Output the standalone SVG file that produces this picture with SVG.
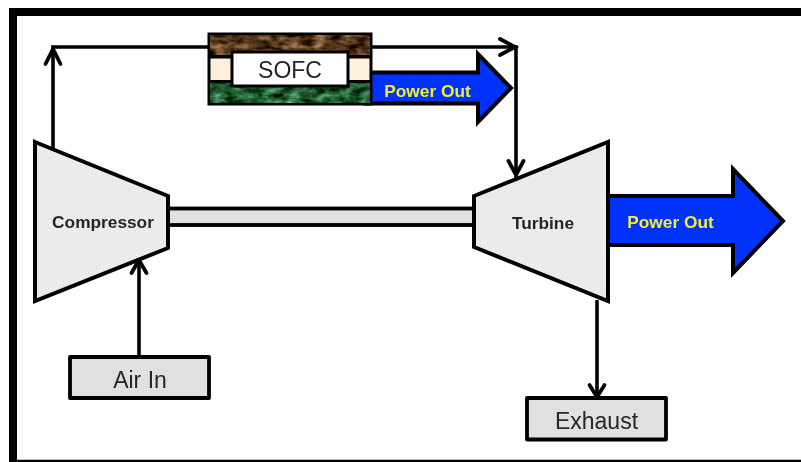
<svg xmlns="http://www.w3.org/2000/svg" width="801" height="462" viewBox="0 0 801 462">
<style>
.ln{fill:none;stroke:#000;stroke-width:3.600;stroke-linecap:butt}
.hd{fill:none;stroke:#000;stroke-width:3.800;stroke-linecap:round;stroke-linejoin:miter}
.box{fill:#e0e0e0;stroke:#000;stroke-width:3.800;stroke-linejoin:round}
.tb{fill:#ebebeb;stroke:#000;stroke-width:4;stroke-linejoin:miter}
.ar{fill:#0433fb;stroke:#000;stroke-width:4;stroke-linejoin:miter}
.big{font:400 23px "Liberation Sans",Arial,sans-serif;fill:#262626;text-anchor:middle}
.bold{font:700 17.300px "Liberation Sans",Arial,sans-serif;fill:#262626;text-anchor:middle}
.pw{font:700 17.300px "Liberation Sans",Arial,sans-serif;fill:#f2ee30;text-anchor:middle}
</style>
<defs>
<filter id="soft" x="0" y="0" width="100%" height="100%" filterUnits="userSpaceOnUse">
<feGaussianBlur stdDeviation="0.5"/>
</filter>
<filter id="brownTex" x="0" y="0" width="100%" height="100%" color-interpolation-filters="sRGB">
<feTurbulence type="fractalNoise" baseFrequency="0.07 0.16" numOctaves="3" seed="4"/>
<feColorMatrix type="matrix" values="0 0 0 1.1 -0.22  0 0 0 0.9 -0.23  0 0 0 0.7 -0.24  0 0 0 0 1"/>
</filter>
<filter id="greenTex" x="0" y="0" width="100%" height="100%" color-interpolation-filters="sRGB">
<feTurbulence type="fractalNoise" baseFrequency="0.08 0.16" numOctaves="3" seed="9"/>
<feColorMatrix type="matrix" values="0 0 0 0.7 -0.22  0 0 0 1 -0.14  0 0 0 0.8 -0.2  0 0 0 0 1"/>
</filter>
</defs>
<rect x="0" y="0" width="801" height="462" fill="#fff"/>
<g filter="url(#soft)">
<g id="frame">
<path d="M13 462V12H801" fill="none" stroke="#000" stroke-width="8"/>
<path d="M9 461H801" fill="none" stroke="#000" stroke-width="2.500"/>
</g>
<g id="connectors">
<path class="ln" d="M53 148V47H516V178"/>
<path class="hd" d="M45.500 64L53 49L60.500 64"/>
<path class="hd" d="M500 39L515 47L500 55"/>
<path class="hd" d="M508.500 161L516 175L523.500 161"/>
<path class="ln" d="M139 357V262"/>
<path class="hd" d="M131.500 273L139 260L146.500 273"/>
<path class="ln" d="M597 300V396"/>
<path class="hd" d="M589.500 385L597 397L604.500 385"/>
</g>
<g id="shaft">
<rect x="168" y="208.500" width="306" height="16.500" fill="#e0e0e0" stroke="#000" stroke-width="3.800"/>
</g>
<g id="compressor">
<polygon class="tb" points="35,142 168,196 168,248 35,301"/>
<text class="bold" x="103" y="227.500">Compressor</text>
</g>
<g id="turbine-power">
<polygon class="ar" points="600,196 733,196 733,169 783,221 733,273 733,245 600,245"/>
<text class="pw" x="670.500" y="228">Power Out</text>
</g>
<g id="turbine">
<polygon class="tb" points="474,196 608,142 608,301 474,247"/>
<text class="bold" x="543" y="229">Turbine</text>
</g>
<g id="sofc-power">
<polygon class="ar" points="365,72.500 478,72.500 478,54 511,88 478,122 478,103.500 365,103.500"/>
<text class="pw" x="427.500" y="97">Power Out</text>
</g>
<g id="sofc">
<rect x="207.500" y="32.500" width="165" height="73" fill="#000"/>
<rect x="210.500" y="35.500" width="159" height="19" fill="#5c4022" filter="url(#brownTex)"/>
<rect x="210.500" y="83" width="159" height="19.500" fill="#2b6236" filter="url(#greenTex)"/>
<rect x="210.500" y="58.500" width="159" height="21.500" fill="#fdf0dc"/>
<rect x="232" y="52" width="116" height="34" fill="#fff" stroke="#000" stroke-width="3"/>
<text class="big" x="290" y="78">SOFC</text>
</g>
<g id="air-in">
<rect class="box" x="70" y="357" width="139" height="41"/>
<text class="big" x="140" y="388">Air In</text>
</g>
<g id="exhaust">
<rect class="box" x="527" y="398" width="139" height="41.500"/>
<text class="big" x="596.500" y="429">Exhaust</text>
</g>
</g>
</svg>
